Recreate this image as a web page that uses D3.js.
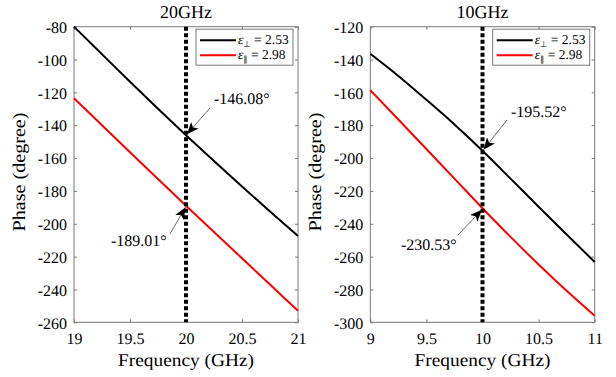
<!DOCTYPE html>
<html><head><meta charset="utf-8">
<script src="https://cdn.jsdelivr.net/npm/d3@7"></script>
<style>body{margin:0;background:#fff}text{font-family:"Liberation Serif","Times New Roman",serif;fill:#000;text-rendering:geometricPrecision}</style>
</head><body><svg id="c" width="616" height="377"></svg>
<script>
// ---- data ----
const freq20 = [19, 19.25, 19.5, 19.75, 20, 20.25, 20.5, 20.75, 21];
const perp20 = [-80, -96.8, -113.5, -130, -146.08, -161.8, -177.3, -192.5, -207.5];
const para20 = [-123.6, -140, -156.4, -172.7, -189.01, -205, -221, -237, -253];
const freq10 = [9, 9.25, 9.5, 9.75, 10, 10.25, 10.5, 10.75, 11];
const perp10 = [-136.5, -150, -164.5, -179.5, -195.52, -212.5, -229.6, -246.5, -263.3];
const para10 = [-158.6, -176.5, -194.5, -212.5, -230.53, -248, -264.8, -280.8, -296];
const xticks20 = [19, 19.5, 20, 20.5, 21];
const yticks20 = [-260, -240, -220, -200, -180, -160, -140, -120, -100, -80];
const xticks10 = [9, 9.5, 10, 10.5, 11];
const yticks10 = [-300, -280, -260, -240, -220, -200, -180, -160, -140, -120];
const titles = ["20GHz", "10GHz"];
const legendLabels = [{sym:"ε", sub:"⊥", val:" = 2.53"}, {sym:"ε", sub:"∥", val:" = 2.98"}];
const marks = [
  {f:20, v:-146.08, label:"-146.08°"},
  {f:20, v:-189.01, label:"-189.01°"},
  {f:10, v:-195.52, label:"-195.52°"},
  {f:10, v:-230.53, label:"-230.53°"}
];

const svg = d3.select("#c");
const defs = svg.append("defs");
defs.append("marker").attr("id","ah").attr("viewBox","0 0 12 10").attr("refX",12).attr("refY",5)
  .attr("markerWidth",12).attr("markerHeight",10).attr("markerUnits","userSpaceOnUse").attr("orient","auto")
  .append("path").attr("d","M0,0 L12,5 L0,10 L3,5 Z").attr("fill","#000");

const panels = [
  {x0:74, x1:298, freq:freq20, perp:perp20, para:para20, xt:xticks20, yt:yticks20, xd:[19,21], yd:[-260,-80], title:titles[0], vx:20,
   ann:[{m:marks[0], tx:214, ty:104, ax:[210,108]},{m:marks[1], tx:111, ty:246, ax:[170,234]}]},
  {x0:370.3, x1:594.7, freq:freq10, perp:perp10, para:para10, xt:xticks10, yt:yticks10, xd:[9,11], yd:[-300,-120], title:titles[1], vx:10,
   ann:[{m:marks[2], tx:511, ty:117, ax:[507,120]},{m:marks[3], tx:401, ty:250, ax:[458,235]}]}
];
const y0 = 26.7, y1 = 322.3;
const gray = "#7a7a7a";
const SERIF = '"Liberation Serif","Times New Roman",serif';

panels.forEach(p => {
  const x = d3.scaleLinear().domain(p.xd).range([p.x0, p.x1]);
  const y = d3.scaleLinear().domain(p.yd).range([y1, y0]);
  const g = svg.append("g").attr("font-family", SERIF);
  g.append("rect").attr("x",p.x0).attr("y",y0).attr("width",p.x1-p.x0).attr("height",y1-y0)
    .attr("fill","none").attr("stroke",gray).attr("stroke-width",1);
  const fs = "16px";
  const ax = g.append("g").attr("transform",`translate(0,${y1})`)
    .call(d3.axisBottom(x).tickValues(p.xt).tickSize(-3).tickPadding(10).tickFormat(d3.format("")));
  const axt = g.append("g").attr("transform",`translate(0,${y0})`)
    .call(d3.axisTop(x).tickValues(p.xt).tickSize(-3).tickFormat(""));
  const ay = g.append("g").attr("transform",`translate(${p.x0},0)`)
    .call(d3.axisLeft(y).tickValues(p.yt).tickSize(-3).tickPadding(7).tickFormat(d => String(d)));
  const ayr = g.append("g").attr("transform",`translate(${p.x1},0)`)
    .call(d3.axisRight(y).tickValues(p.yt).tickSize(-3).tickFormat(""));
  [ax,axt,ay,ayr].forEach(a => {
    a.attr("font-family", SERIF);
    a.select(".domain").remove();
    a.selectAll(".tick line").attr("stroke",gray);
    a.selectAll("text").style("font-size",fs).style("font-family",SERIF).attr("fill","#000");
  });
  ay.selectAll("text").attr("dy","0.36em");
  ax.selectAll("text").attr("dy","0.72em");
  const cx = (p.x0+p.x1)/2;
  g.append("text").attr("x",cx).attr("y",18).attr("text-anchor","middle").style("font-size","18px").text(p.title);
  g.append("text").attr("x",cx).attr("y",366).attr("text-anchor","middle").style("font-size","18px")
    .attr("textLength",136).attr("lengthAdjust","spacingAndGlyphs").text("Frequency (GHz)");
  g.append("text").attr("transform",`translate(${p.x0-49},172) rotate(-90)`).attr("text-anchor","middle")
    .style("font-size","18px").attr("textLength",119).attr("lengthAdjust","spacingAndGlyphs").text("Phase (degree)");
  const line = d3.line().x((d,i) => x(p.freq[i])).y(d => y(d)).curve(d3.curveMonotoneX);
  g.append("path").datum(p.perp).attr("d",line).attr("fill","none").attr("stroke","#000").attr("stroke-width",2);
  g.append("path").datum(p.para).attr("d",line).attr("fill","none").attr("stroke","#ff0000").attr("stroke-width",2);
  g.append("line").attr("x1",x(p.vx)).attr("x2",x(p.vx)).attr("y1",y0).attr("y2",y1)
    .attr("stroke","#000").attr("stroke-width",4).attr("stroke-dasharray","4,2.5");
  p.ann.forEach(a => {
    g.append("line").attr("x1",a.ax[0]).attr("y1",a.ax[1]).attr("x2",x(a.m.f)+ (a.ax[0]>x(a.m.f)?1:-0.5)).attr("y2",y(a.m.v)+(a.ax[1]<y(a.m.v)?-1:1.5))
      .attr("stroke","#444").attr("stroke-width",0.8).attr("marker-end","url(#ah)");
    g.append("text").attr("x",a.tx).attr("y",a.ty).style("font-size","16px").text(a.m.label);
  });
  const lw = 97, lh = 36;
  const lx = p.x1 - 5 - lw, ly = y0 + 2.5;
  const lg = g.append("g");
  lg.append("rect").attr("x",lx).attr("y",ly).attr("width",lw).attr("height",lh).attr("fill","#fff").attr("stroke",gray).attr("stroke-width",1);
  legendLabels.forEach((L,i) => {
    const yy = ly + 11 + i*15;
    lg.append("line").attr("x1",lx+4).attr("x2",lx+40).attr("y1",yy).attr("y2",yy)
      .attr("stroke", i===0 ? "#000" : "#ff0000").attr("stroke-width",2);
    const t = lg.append("text").attr("x",lx+42).attr("y",yy+4).style("font-size","13.5px");
    t.append("tspan").style("font-style","italic").text(L.sym);
    t.append("tspan").attr("dy",3).style("font-size","8.5px").text(L.sub);
    t.append("tspan").attr("dy",-3).text(L.val);
  });
});
</script></body></html>
